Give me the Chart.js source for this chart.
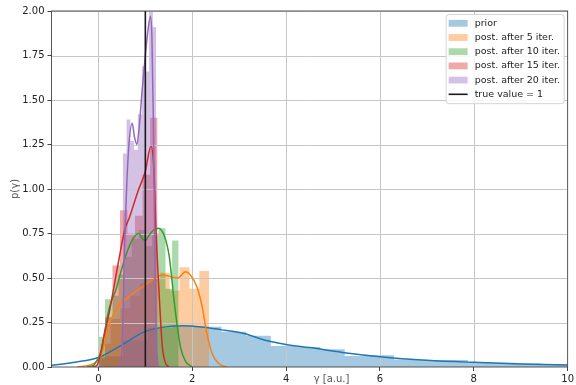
<!DOCTYPE html>
<html>
<head>
<meta charset="utf-8">
<script src="https://cdn.jsdelivr.net/npm/chart.js@4.4.1/dist/chart.umd.min.js"></script>
<style>
  html, body { margin: 0; padding: 0; background: #fff; }
  #wrap { width: 576px; height: 385px; }
</style>
</head>
<body>
<div id="wrap"><canvas id="chart" width="576" height="385"></canvas></div>
<script>
  // tick labels
  const xTicks = [0, 2, 4, 6, 8, 10];
  const yTicks = [0, 0.25, 0.5, 0.75, 1, 1.25, 1.5, 1.75, 2];

  const seriesLabels = ['prior', 'post. after 5 iter.', 'post. after 10 iter.', 'post. after 15 iter.', 'post. after 20 iter.'];
  const trueLabel = 'true value = 1';

  // histogram bin edges and heights (density)
  const priorEdges = [0, 0.525, 1.05, 1.575, 2.1, 2.625, 3.15, 3.675, 4.2, 4.725, 5.25, 5.775, 6.3, 6.825, 7.35, 7.875, 8.4, 8.925, 9.45, 9.975, 10.5];
  const priorHeights = [0.06, 0.15, 0.22, 0.23, 0.226, 0.198, 0.176, 0.118, 0.112, 0.1, 0.062, 0.066, 0.042, 0.04, 0.04, 0.026, 0.024, 0.02, 0.016, 0.014];

  const post5Edges = [0.05, 0.26, 0.47, 0.68, 0.89, 1.1, 1.31, 1.52, 1.73, 1.94, 2.15, 2.36];
  const post5Heights = [0.13, 0.27, 0.33, 0.4, 0.47, 0.5, 0.53, 0.43, 0.56, 0.44, 0.54];

  const post10Edges = [0, 0.14, 0.28, 0.43, 0.57, 0.71, 0.86, 1, 1.14, 1.28, 1.43, 1.57, 1.71];
  const post10Heights = [0.17, 0.38, 0.4, 0.52, 0.62, 0.72, 0.77, 0.68, 0.75, 0.78, 0.44, 0.71];

  const post15Edges = [-0.02, 0.14, 0.3, 0.46, 0.62, 0.78, 0.94, 1.1, 1.26];
  const post15Heights = [0.05, 0.28, 0.57, 0.88, 0.75, 0.85, 1.08, 1.4];

  const post20Edges = [0.52, 0.6, 0.68, 0.76, 0.84, 0.93, 1, 1.08, 1.16, 1.23];
  const post20Heights = [1.2, 1.39, 1.27, 1.22, 1.42, 1.69, 1.66, 2.05, 1.91];

  // kde curves
  const priorKdeX = [-1.2, -1, -0.5, 0, 0.5, 1, 1.5, 1.8, 2.2, 2.6, 3.1, 3.6, 4, 4.5, 5.2, 6, 7, 8, 9, 10, 10.3];
  const priorKdeY = [0.007, 0.01, 0.027, 0.053, 0.124, 0.2, 0.228, 0.232, 0.225, 0.21, 0.188, 0.147, 0.127, 0.109, 0.082, 0.058, 0.038, 0.026, 0.017, 0.011, 0.01];

  const post5KdeX = [-0.45, -0.2, -0.07, 0.07, 0.14, 0.26, 0.42, 0.56, 0.77, 1, 1.15, 1.23, 1.37, 1.51, 1.68, 1.86, 1.96, 2.1, 2.21, 2.31, 2.42, 2.56, 2.74];
  const post5KdeY = [0, 0.01, 0.025, 0.077, 0.15, 0.26, 0.34, 0.376, 0.42, 0.46, 0.49, 0.504, 0.517, 0.51, 0.5, 0.535, 0.517, 0.45, 0.34, 0.19, 0.077, 0.02, 0];

  const post10KdeX = [-0.25, -0.1, 0.03, 0.07, 0.14, 0.24, 0.38, 0.49, 0.63, 0.76, 0.86, 0.94, 1, 1.08, 1.18, 1.28, 1.4, 1.51, 1.61, 1.68, 1.75, 1.86, 2];
  const post10KdeY = [0, 0.01, 0.07, 0.1, 0.21, 0.34, 0.44, 0.545, 0.66, 0.73, 0.75, 0.72, 0.71, 0.74, 0.77, 0.78, 0.74, 0.62, 0.38, 0.23, 0.11, 0.03, 0];

  const post15KdeX = [-0.12, -0.03, 0.03, 0.1, 0.24, 0.42, 0.56, 0.66, 0.84, 1, 1.12, 1.18, 1.23, 1.3, 1.36, 1.42, 1.5];
  const post15KdeY = [0, 0.01, 0.06, 0.15, 0.32, 0.58, 0.77, 0.84, 0.985, 1.1, 1.24, 1.12, 0.75, 0.38, 0.12, 0.03, 0];

  const post20KdeX = [0.42, 0.48, 0.52, 0.56, 0.6, 0.65, 0.72, 0.77, 0.82, 0.87, 0.93, 1, 1.06, 1.11, 1.14, 1.17, 1.2, 1.23, 1.26, 1.3];
  const post20KdeY = [0, 0.02, 0.25, 0.7, 1, 1.25, 1.37, 1.29, 1.25, 1.35, 1.55, 1.75, 1.9, 1.97, 1.85, 1.4, 0.7, 0.2, 0.03, 0];

  const trueX = [1, 1];
  const trueY = [0, 2];

  const colors = {
    blue: '#1f77b4',
    orange: '#ff7f0e',
    green: '#2ca02c',
    red: '#d62728',
    purple: '#9467bd',
    text: '#222222',
    label: '#555555',
    grid: '#c6c6c6',
    spine: '#444444'
  };
  const font = { family: '"DejaVu Sans", sans-serif', size: 10 };
  const legendFont = { family: '"DejaVu Sans", sans-serif', size: 9.5 };

  function soft(hex) {
    const n = parseInt(hex.slice(1), 16);
    return `rgba(${n >> 16}, ${(n >> 8) & 255}, ${n & 255}, 0.4)`;
  }

  function histPoints(edges, heights) {
    const pts = heights.map((h, i) => ({ x: edges[i], y: h }));
    pts.push({ x: edges[edges.length - 1], y: 0 });
    return pts;
  }

  function curvePoints(xs, ys) {
    return xs.map((x, i) => ({ x, y: ys[i] }));
  }

  function histDataset(label, edges, heights, color, order, last) {
    return {
      label,
      data: histPoints(edges, heights),
      stepped: true,
      fill: 'origin',
      backgroundColor: soft(color),
      borderWidth: 0,
      pointRadius: 0,
      order,
      inLegend: true,
      gridAfter: !!last
    };
  }

  function kdeDataset(xs, ys, color, order) {
    return {
      data: curvePoints(xs, ys),
      borderColor: color,
      borderWidth: 1.5,
      pointRadius: 0,
      cubicInterpolationMode: 'monotone',
      fill: false,
      order
    };
  }

  const series = [
    [priorEdges, priorHeights, priorKdeX, priorKdeY, colors.blue],
    [post5Edges, post5Heights, post5KdeX, post5KdeY, colors.orange],
    [post10Edges, post10Heights, post10KdeX, post10KdeY, colors.green],
    [post15Edges, post15Heights, post15KdeX, post15KdeY, colors.red],
    [post20Edges, post20Heights, post20KdeX, post20KdeY, colors.purple]
  ];

  const datasets = [];
  series.forEach((s, i) => {
    datasets.push(histDataset(seriesLabels[i], s[0], s[1], s[4], 14 - i, i === series.length - 1));
  });
  series.forEach((s, i) => {
    datasets.push(kdeDataset(s[2], s[3], s[4], 5 - i));
  });
  datasets.push({
    label: trueLabel,
    data: curvePoints(trueX, trueY),
    borderColor: '#1a1a1a',
    borderWidth: 1.6,
    pointRadius: 0,
    fill: false,
    order: 0,
    inLegend: true,
    isLine: true
  });

  // grid above the histograms but below the curves, like matplotlib
  const frame = {
    id: 'frame',
    afterDatasetDraw(chart, args) {
      const ds = chart.data.datasets[args.index];
      if (!ds.gridAfter) return;
      const { ctx, chartArea: a, scales: { x, y } } = chart;
      ctx.save();
      ctx.beginPath();
      ctx.rect(a.left, a.top, a.width, a.height);
      ctx.clip();
      ctx.strokeStyle = colors.grid;
      ctx.lineWidth = 1;
      ctx.beginPath();
      x.ticks.forEach((t) => {
        const px = Math.round(x.getPixelForValue(t.value)) + 0.5;
        ctx.moveTo(px, a.top);
        ctx.lineTo(px, a.bottom);
      });
      y.ticks.forEach((t) => {
        const py = Math.round(y.getPixelForValue(t.value)) + 0.5;
        ctx.moveTo(a.left, py);
        ctx.lineTo(a.right, py);
      });
      ctx.stroke();
      ctx.restore();
    },
    afterDraw(chart) {
      const { ctx, chartArea: a } = chart;
      ctx.save();
      ctx.strokeStyle = colors.spine;
      ctx.lineWidth = 0.9;
      ctx.strokeRect(a.left, a.top, a.width, a.height);

      // x axis title sits on the tick label row
      ctx.font = `${font.size}px ${font.family}`;
      ctx.fillStyle = colors.label;
      ctx.textAlign = 'center';
      ctx.textBaseline = 'middle';
      ctx.fillText('γ [a.u.]', (a.left + a.right) / 2 + 22, a.bottom + 12);

      // legend
      const items = chart.data.datasets.filter((d) => d.inLegend);
      const boxW = 118;
      const rowH = 14.2;
      const boxH = items.length * rowH + 4;
      const bx = a.right - boxW - 4;
      const by = a.top + 3;
      ctx.beginPath();
      ctx.roundRect(bx + 0.5, by + 0.5, boxW, boxH, 3);
      ctx.fillStyle = 'rgba(255, 255, 255, 0.85)';
      ctx.fill();
      ctx.strokeStyle = '#d4d4d4';
      ctx.lineWidth = 1;
      ctx.stroke();

      ctx.font = `${legendFont.size}px ${legendFont.family}`;
      ctx.textAlign = 'left';
      items.forEach((d, i) => {
        const cy = by + 9.3 + i * rowH;
        if (d.isLine) {
          ctx.strokeStyle = d.borderColor;
          ctx.lineWidth = 1.6;
          ctx.beginPath();
          ctx.moveTo(bx + 3, cy);
          ctx.lineTo(bx + 22, cy);
          ctx.stroke();
        } else {
          ctx.fillStyle = d.backgroundColor;
          ctx.fillRect(bx + 3, cy - 3.4, 19, 6.8);
        }
        ctx.fillStyle = colors.text;
        ctx.fillText(d.label, bx + 29, cy);
      });
      ctx.restore();
    }
  };

  new Chart(document.getElementById('chart'), {
    type: 'line',
    data: { datasets },
    options: {
      responsive: false,
      animation: false,
      devicePixelRatio: 1,
      layout: { padding: { top: 11, right: 2.5, left: 0, bottom: 0 } },
      plugins: {
        legend: { display: false },
        tooltip: { enabled: false }
      },
      scales: {
        x: {
          type: 'linear',
          min: -1,
          max: 10,
          afterBuildTicks: (scale) => { scale.ticks = xTicks.map((v) => ({ value: v })); },
          afterFit: (scale) => { scale.height = 18; },
          grid: { drawOnChartArea: false, drawTicks: true, tickLength: 4, color: colors.spine },
          border: { display: false },
          ticks: { font, color: colors.text, padding: 2, maxRotation: 0, autoSkip: false, callback: (v) => String(v) }
        },
        y: {
          min: 0,
          max: 2,
          afterBuildTicks: (scale) => { scale.ticks = yTicks.map((v) => ({ value: v })); },
          afterFit: (scale) => { scale.width = 51.5; },
          grid: { drawOnChartArea: false, drawTicks: true, tickLength: 4, color: colors.spine },
          border: { display: false },
          ticks: { font, color: colors.text, padding: 3, autoSkip: false, callback: (v) => v.toFixed(2) },
          title: { display: true, text: 'p(γ)', color: colors.label, font, padding: { top: 9, bottom: 0 } }
        }
      }
    },
    plugins: [frame]
  });
</script>
</body>
</html>
